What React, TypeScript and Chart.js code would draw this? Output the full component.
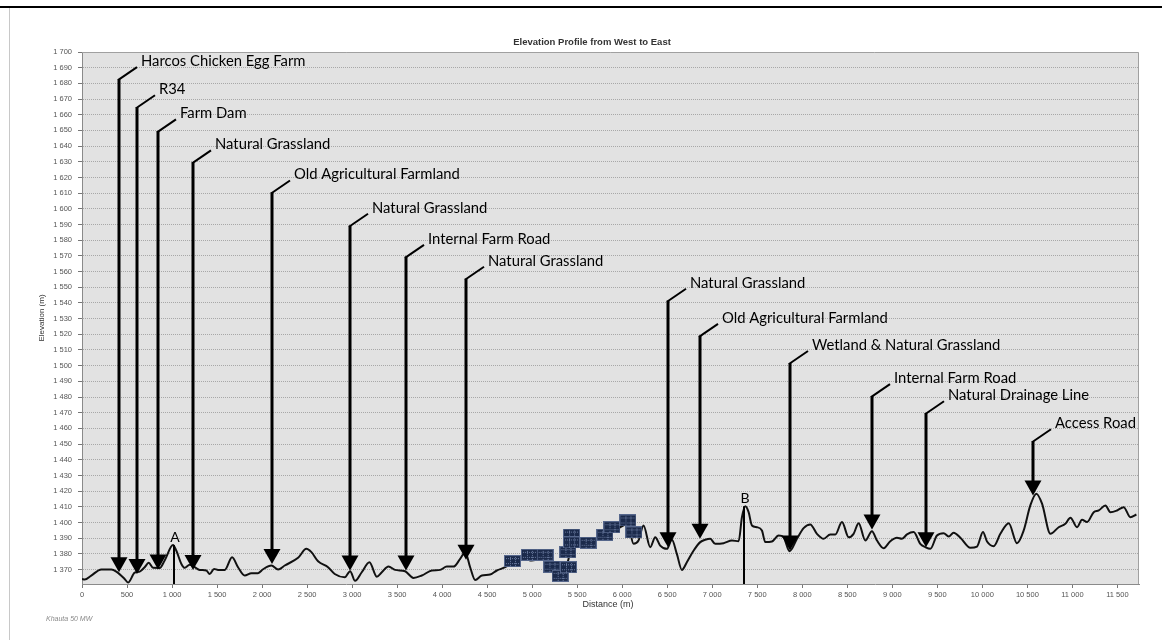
import React, { useEffect, useRef } from 'react';
import { Chart, registerables } from 'chart.js';

Chart.register(...registerables);

// ---- Data ----
const profileDistance = [
  0, 30, 103, 215, 326, 381, 474, 511, 585, 641, 696, 741, 789, 863, 918, 1011, 1048, 1104, 1141, 1196,
  1252, 1307, 1381, 1418, 1467, 1511, 1585, 1667, 1733, 1807, 1881, 1955, 2011, 2104, 2178, 2252, 2400,
  2492, 2548, 2622, 2733, 2807, 2918, 2978, 3033, 3107, 3193, 3274, 3330, 3404, 3478, 3589, 3681, 3774,
  3885, 3978, 4052, 4126, 4200, 4256, 4311, 4367, 4441, 4533, 4607, 4700, 4793, 4904, 4978, 5052, 5163,
  5250, 5330, 5404, 5422, 5533, 5681, 5737, 5830, 5950, 6063, 6126, 6181, 6237, 6311, 6367, 6422, 6496,
  6552, 6607, 6663, 6718, 6792, 6867, 6922, 6978, 7033, 7126, 7219, 7293, 7330, 7367, 7404, 7441, 7496,
  7552, 7589, 7663, 7737, 7793, 7859, 7941, 8015, 8089, 8163, 8237, 8311, 8367, 8441, 8515, 8570, 8626,
  8700, 8774, 8830, 8904, 8978, 9052, 9107, 9163, 9237, 9311, 9367, 9422, 9496, 9570, 9626, 9681, 9756,
  9867, 9941, 10007, 10052, 10126, 10200, 10293, 10385, 10459, 10533, 10600, 10663, 10756, 10848, 10922,
  10978, 11052, 11107, 11163, 11237, 11293, 11367, 11422, 11496, 11570, 11644, 11711,
];
const profileElevation = [
  1364.0, 1363.6, 1366.2, 1370.0, 1370.0, 1368.7, 1364.0, 1361.7, 1368.0, 1368.7, 1371.5, 1374.3, 1371.1,
  1371.0, 1375.8, 1385.6, 1382.0, 1373.6, 1371.1, 1373.0, 1371.5, 1369.8, 1369.4, 1367.2, 1370.4, 1369.8,
  1369.8, 1377.9, 1371.5, 1366.2, 1367.7, 1367.7, 1370.2, 1372.6, 1370.0, 1372.6, 1377.5, 1383.2, 1381.1,
  1375.3, 1371.5, 1367.2, 1365.1, 1369.0, 1362.8, 1368.3, 1374.7, 1365.5, 1368.3, 1371.9, 1369.8, 1368.9,
  1364.7, 1366.2, 1369.4, 1369.8, 1371.9, 1371.9, 1376.8, 1381.1, 1371.5, 1363.4, 1366.2, 1366.8, 1369.4,
  1371.5, 1374.7, 1377.5, 1375.8, 1376.2, 1375.8, 1370.0, 1367.0, 1376.8, 1382.0, 1386.0, 1386.8, 1390.6,
  1391.7, 1396.0, 1399.0, 1386.4, 1388.5, 1398.1, 1384.3, 1390.6, 1385.3, 1383.2, 1389.0, 1380.0, 1369.8,
  1374.7, 1382.0, 1387.5, 1389.0, 1389.6, 1386.4, 1386.8, 1388.5, 1388.1, 1403.4, 1410.3, 1406.6, 1398.1,
  1397.0, 1394.9, 1387.5, 1387.9, 1391.7, 1390.6, 1381.7, 1389.6, 1396.4, 1398.8, 1392.8, 1389.6, 1392.4,
  1392.4, 1400.3, 1390.6, 1392.8, 1399.6, 1388.5, 1394.5, 1388.5, 1383.6, 1388.1, 1390.3, 1389.6, 1392.4,
  1393.9, 1386.4, 1384.3, 1383.2, 1391.7, 1393.2, 1391.1, 1393.5, 1390.3, 1383.9, 1384.7, 1393.9, 1387.9,
  1384.9, 1392.8, 1399.6, 1386.8, 1394.9, 1410.9, 1418.4, 1412.0, 1392.8, 1397.0, 1399.2, 1403.1, 1397.0,
  1401.8, 1400.3, 1406.6, 1407.7, 1410.9, 1406.6, 1407.7, 1409.8, 1403.4, 1405.1,
];

const iconDistance = [4781, 4969, 5144, 5219, 5311, 5403, 5397, 5437, 5437, 5622, 5808, 5886, 6063, 6130];
const iconElevation = [1375.4, 1379.4, 1379.4, 1371.8, 1366.0, 1371.5, 1381.1, 1392.3, 1387.3, 1387.1, 1392.2, 1397.0, 1401.3, 1393.7];

const annotationLabels = [
  'Harcos Chicken Egg Farm', 'R34', 'Farm Dam', 'Natural Grassland', 'Old Agricultural Farmland',
  'Natural Grassland', 'Internal Farm Road', 'Natural Grassland', 'Natural Grassland',
  'Old Agricultural Farmland', 'Wetland & Natural Grassland', 'Internal Farm Road',
  'Natural Drainage Line', 'Access Road',
];
const annotationDistance = [414, 614, 844, 1237, 2115, 2978, 3596, 4267, 6511, 6867, 7859, 8778, 9374, 10563];
const annotationTipElevation = [1368.3, 1367.2, 1370.0, 1369.8, 1373.6, 1369.4, 1369.4, 1376.2, 1384.3, 1389.6, 1382.1, 1395.6, 1384.3, 1417.3];
const annotationTopElevation = [1682.7, 1664.8, 1649.4, 1629.6, 1610.4, 1589.2, 1569.4, 1555.4, 1541.4, 1519.0, 1501.7, 1480.6, 1469.7, 1451.8];

const markerLabels = ['A', 'B'];
const markerDistance = [1026, 7356];
const markerElevation = [1385.6, 1410.3];

const xTickValues = [0, 500, 1000, 1500, 2000, 2500, 3000, 3500, 4000, 4500, 5000, 5500, 6000, 6500, 7000, 7500, 8000, 8500, 9000, 9500, 10000, 10500, 11000, 11500];
const yTickValues = [1370, 1380, 1390, 1400, 1410, 1420, 1430, 1440, 1450, 1460, 1470, 1480, 1490, 1500, 1510, 1520, 1530, 1540, 1550, 1560, 1570, 1580, 1590, 1600, 1610, 1620, 1630, 1640, 1650, 1660, 1670, 1680, 1690, 1700];

const chartTitle = 'Elevation Profile from West to East';
const xTitle = 'Distance (m)';
const yTitle = 'Elevation (m)';
const footerText = 'Khauta 50 MW';

const fmt = (v: number) => String(v).replace(/\B(?=(\d{3})+(?!\d))/g, ' ');

function makeIcon(): HTMLCanvasElement {
  const c = document.createElement('canvas');
  c.width = 17;
  c.height = 12;
  const g = c.getContext('2d')!;
  g.fillStyle = '#56678c';
  g.fillRect(0, 0, 17, 12);
  g.fillStyle = '#1b2a4b';
  g.fillRect(1, 1, 15, 10);
  g.fillStyle = '#6a7ba0';
  for (let i = 2; i < 16; i += 2) {
    g.fillRect(i, 3, 1, 1);
    g.fillRect(i, 8, 1, 1);
  }
  for (let j = 2; j < 11; j += 2) {
    g.fillRect(6, j, 1, 1);
    g.fillRect(11, j, 1, 1);
  }
  return c;
}

const overlayPlugin = {
  id: 'overlay',
  beforeDraw(chart: any) {
    const { ctx, chartArea: a } = chart;
    ctx.save();
    ctx.fillStyle = '#e2e2e2';
    ctx.fillRect(a.left, a.top, a.right - a.left, a.bottom - a.top);
    ctx.restore();
  },
  afterDatasetsDraw(chart: any) {
    const { ctx, chartArea: a } = chart;
    const xs = chart.scales.x;
    const ys = chart.scales.y;
    ctx.save();
    // plot border
    ctx.strokeStyle = '#a0a0a0';
    ctx.lineWidth = 1;
    ctx.beginPath();
    ctx.moveTo(a.left, a.top + 0.5);
    ctx.lineTo(a.right - 0.5, a.top + 0.5);
    ctx.lineTo(a.right - 0.5, a.bottom);
    ctx.stroke();

    // A / B markers
    ctx.strokeStyle = '#000';
    ctx.fillStyle = '#000';
    ctx.lineWidth = 2;
    ctx.font = '14px Lato';
    ctx.textAlign = 'center';
    ctx.textBaseline = 'bottom';
    markerLabels.forEach((lab, i) => {
      const px = Math.round(xs.getPixelForValue(markerDistance[i]));
      const py = ys.getPixelForValue(markerElevation[i]);
      ctx.beginPath();
      ctx.moveTo(px, py);
      ctx.lineTo(px, a.bottom);
      ctx.stroke();
      ctx.fillText(lab, px + 1, py - 1);
    });

    // arrows
    ctx.textAlign = 'left';
    ctx.textBaseline = 'middle';
    ctx.font = '14.8px Lato';
    annotationLabels.forEach((lab, i) => {
      const px = Math.round(xs.getPixelForValue(annotationDistance[i]));
      const top = ys.getPixelForValue(annotationTopElevation[i]);
      const tip = ys.getPixelForValue(annotationTipElevation[i]);
      const triH = 15;
      const triW = 17;
      ctx.lineWidth = 3;
      ctx.beginPath();
      ctx.moveTo(px, top);
      ctx.lineTo(px, tip - triH + 2);
      ctx.stroke();
      ctx.lineWidth = 2;
      ctx.beginPath();
      ctx.moveTo(px - 1, top + 1);
      ctx.lineTo(px + 18, top - 12);
      ctx.stroke();
      ctx.beginPath();
      ctx.moveTo(px - triW / 2, tip - triH);
      ctx.lineTo(px + triW / 2, tip - triH);
      ctx.lineTo(px, tip);
      ctx.closePath();
      ctx.fill();
      ctx.fillText(lab, px + 22, top - 18);
    });
    ctx.restore();
  },
  afterDraw(chart: any) {
    const { ctx } = chart;
    ctx.save();
    // page frame
    ctx.fillStyle = '#000';
    ctx.fillRect(0, 6, 1162, 2);
    ctx.fillStyle = '#c8c8c8';
    ctx.fillRect(9, 8, 1, 632);
    // title
    ctx.fillStyle = '#333';
    ctx.font = 'bold 9.5px "Liberation Sans"';
    ctx.textAlign = 'center';
    ctx.textBaseline = 'middle';
    ctx.fillText(chartTitle, 592, 42);
    // x title
    ctx.font = '9px "Liberation Sans"';
    ctx.fillText(xTitle, 608, 605);
    // y title
    ctx.save();
    ctx.translate(42, 318);
    ctx.rotate(-Math.PI / 2);
    ctx.font = '8px "Liberation Sans"';
    ctx.fillText(yTitle, 0, 0);
    ctx.restore();
    // footer
    ctx.fillStyle = '#8a8a8a';
    ctx.font = 'italic 7px "Liberation Sans"';
    ctx.textAlign = 'left';
    ctx.fillText(footerText, 46, 619);
    ctx.restore();
  },
};

export default function App() {
  const ref = useRef<HTMLCanvasElement>(null);
  useEffect(() => {
    if (!ref.current) return;
    const icon = makeIcon();
    const chart = new Chart(ref.current, {
      type: 'line',
      data: {
        datasets: [
          {
            label: 'Elevation',
            data: profileDistance.map((d, i) => ({ x: d, y: profileElevation[i] })),
            borderColor: '#111',
            borderWidth: 2,
            pointRadius: 0,
            cubicInterpolationMode: 'monotone',
            fill: false,
            order: 2,
          },
          {
            label: 'Panels',
            data: iconDistance.map((d, i) => ({ x: d, y: iconElevation[i] })),
            showLine: false,
            pointStyle: icon as any,
            pointRadius: 5,
            order: 1,
          },
        ],
      },
      options: {
        responsive: false,
        maintainAspectRatio: false,
        animation: false,
        events: [],
        layout: { padding: { top: 52, right: 23, left: 0, bottom: 0 } },
        plugins: { legend: { display: false }, title: { display: false }, tooltip: { enabled: false } },
        scales: {
          x: {
            type: 'linear',
            min: 0,
            max: 11740,
            afterBuildTicks: (s: any) => {
              s.ticks = xTickValues.map((v) => ({ value: v }));
            },
            afterFit: (s: any) => {
              s.height = 56;
            },
            ticks: {
              autoSkip: false,
              maxRotation: 0,
              padding: 2,
              color: '#555',
              font: { family: '"Liberation Sans"', size: 7.5 },
              callback: (v: any) => fmt(Number(v)),
            },
            grid: { drawOnChartArea: false, drawTicks: true, tickLength: 4, tickColor: '#777' },
            border: { display: true, color: '#8a8a8a', width: 1 },
          },
          y: {
            type: 'linear',
            min: 1360.8,
            max: 1700,
            afterBuildTicks: (s: any) => {
              s.ticks = yTickValues.map((v) => ({ value: v }));
            },
            afterFit: (s: any) => {
              s.width = 82;
            },
            ticks: {
              autoSkip: false,
              padding: 6,
              color: '#555',
              font: { family: '"Liberation Sans"', size: 7.5 },
              callback: (v: any) => fmt(Number(v)),
            },
            grid: {
              color: '#a8a8a8',
              lineWidth: 1,
              drawTicks: true,
              tickLength: 4,
              tickColor: '#777',
              tickBorderDash: [],
            },
            border: { display: true, color: '#8a8a8a', width: 1, dash: [1, 1] },
          },
        },
      } as any,
      plugins: [overlayPlugin],
    });
    return () => chart.destroy();
  }, []);
  return (
    <div style={{ position: 'absolute', left: 0, top: 0, width: 1162, height: 640, background: '#fff' }}>
      <canvas ref={ref} width={1162} height={640} style={{ display: 'block' }} />
    </div>
  );
}
